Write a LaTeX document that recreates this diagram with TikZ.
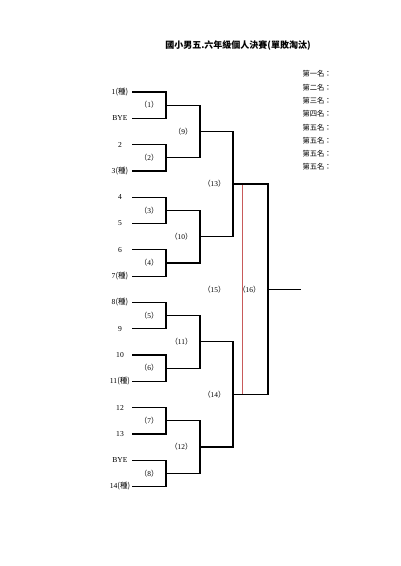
\documentclass[tikz,border=0pt]{standalone}
\usepackage{fontspec}
\setmainfont{Liberation Serif}
\newfontfamily\cjk{Noto Sans CJK TC}
\newcommand{\zh}[1]{{\cjk #1}}
\newcommand{\mno}[1]{{\cjk （}#1{\cjk ）}}
\definecolor{redline}{RGB}{200,90,90}

\begin{document}
\begin{tikzpicture}[x=1pt,y=-1pt,
    bk/.style={line width=1.2pt},
    plab/.style={font=\fontsize{7.6}{8}\selectfont},
    mlab/.style={anchor=east,font=\fontsize{7.4}{8}\selectfont},
    rlab/.style={anchor=west,font=\fontsize{7.3}{8}\selectfont}]
    \useasboundingbox (0,0) rectangle (400,566);
    \node[font=\fontsize{9}{10}\selectfont\bfseries] (title) at (238,45) {\zh{國小男五.六年級個人決賽(單敗淘汰)}};

    % players
    \node[plab] (p1) at (120,92.0) {1\zh{(種)}};
    \node[plab] (p2) at (120,118.3) {BYE};
    \node[plab] (p3) at (120,144.6) {2};
    \node[plab] (p4) at (120,170.9) {3\zh{(種)}};
    \node[plab] (p5) at (120,197.2) {4};
    \node[plab] (p6) at (120,223.5) {5};
    \node[plab] (p7) at (120,249.8) {6};
    \node[plab] (p8) at (120,276.1) {7\zh{(種)}};
    \node[plab] (p9) at (120,302.4) {8\zh{(種)}};
    \node[plab] (p10) at (120,328.7) {9};
    \node[plab] (p11) at (120,355.0) {10};
    \node[plab] (p12) at (120,381.3) {11\zh{(種)}};
    \node[plab] (p13) at (120,407.6) {12};
    \node[plab] (p14) at (120,433.9) {13};
    \node[plab] (p15) at (120,460.2) {BYE};
    \node[plab] (p16) at (120,486.5) {14\zh{(種)}};

    \coordinate (a1) at (132,92.0);
    \coordinate (a2) at (132,118.3);
    \coordinate (a3) at (132,144.6);
    \coordinate (a4) at (132,170.9);
    \coordinate (a5) at (132,197.2);
    \coordinate (a6) at (132,223.5);
    \coordinate (a7) at (132,249.8);
    \coordinate (a8) at (132,276.1);
    \coordinate (a9) at (132,302.4);
    \coordinate (a10) at (132,328.7);
    \coordinate (a11) at (132,355.0);
    \coordinate (a12) at (132,381.3);
    \coordinate (a13) at (132,407.6);
    \coordinate (a14) at (132,433.9);
    \coordinate (a15) at (132,460.2);
    \coordinate (a16) at (132,486.5);

    % match points
    \coordinate (m1) at (166,105.15);
    \coordinate (m2) at (166,157.75);
    \coordinate (m3) at (166,210.35);
    \coordinate (m4) at (166,262.95);
    \coordinate (m5) at (166,315.55);
    \coordinate (m6) at (166,368.15);
    \coordinate (m7) at (166,420.75);
    \coordinate (m8) at (166,473.35);
    \coordinate (m9) at (200,131.45);
    \coordinate (m10) at (200,236.65);
    \coordinate (m11) at (200,341.85);
    \coordinate (m12) at (200,447.05);
    \coordinate (m13) at (233,184.05);
    \coordinate (m14) at (233,394.45);
    \coordinate (m16) at (268,289.25);
    \coordinate (win) at (301,289.25);

    \draw[bk] (a1) -| (m1) |- (a2);
    \draw[bk] (a3) -| (m2) |- (a4);
    \draw[bk] (a5) -| (m3) |- (a6);
    \draw[bk] (a7) -| (m4) |- (a8);
    \draw[bk] (a9) -| (m5) |- (a10);
    \draw[bk] (a11) -| (m6) |- (a12);
    \draw[bk] (a13) -| (m7) |- (a14);
    \draw[bk] (a15) -| (m8) |- (a16);

    \draw[bk] (m1) -| (m9) |- (m2);
    \draw[bk] (m3) -| (m10) |- (m4);
    \draw[bk] (m5) -| (m11) |- (m6);
    \draw[bk] (m7) -| (m12) |- (m8);

    \draw[bk] (m9) -| (m13) |- (m10);
    \draw[bk] (m11) -| (m14) |- (m12);

    \draw[bk] (m13) -| (m16) |- (m14);
    \draw[bk] (m16) -- (win);

    % red line for (15)
    \coordinate (rt) at (242,185);
    \coordinate (rb) at (242,393.5);
    \draw[redline, line width=0.5pt] (rt) -- (rb);

    % match numbers
    \node[mlab] (l1) at (162,105.15) {\mno{1}};
    \node[mlab] (l2) at (162,157.75) {\mno{2}};
    \node[mlab] (l3) at (162,210.35) {\mno{3}};
    \node[mlab] (l4) at (162,262.95) {\mno{4}};
    \node[mlab] (l5) at (162,315.55) {\mno{5}};
    \node[mlab] (l6) at (162,368.15) {\mno{6}};
    \node[mlab] (l7) at (162,420.75) {\mno{7}};
    \node[mlab] (l8) at (162,473.35) {\mno{8}};
    \node[mlab] (l9) at (196,131.45) {\mno{9}};
    \node[mlab] (l10) at (196,236.65) {\mno{10}};
    \node[mlab] (l11) at (196,341.85) {\mno{11}};
    \node[mlab] (l12) at (196,447.05) {\mno{12}};
    \node[mlab] (l13) at (229,184.05) {\mno{13}};
    \node[mlab] (l14) at (229,394.45) {\mno{14}};
    \node[mlab] (l15) at (229,289.25) {\mno{15}};
    \node[mlab] (l16) at (264,289.25) {\mno{16}};

    % ranking
    \node[rlab] (rk1) at (299,74) {\zh{第一名：}};
    \node[rlab] (rk2) at (299,87.3) {\zh{第二名：}};
    \node[rlab] (rk3) at (299,100.6) {\zh{第三名：}};
    \node[rlab] (rk4) at (299,113.9) {\zh{第四名：}};
    \node[rlab] (rk5) at (299,127.2) {\zh{第五名：}};
    \node[rlab] (rk6) at (299,140.5) {\zh{第五名：}};
    \node[rlab] (rk7) at (299,153.8) {\zh{第五名：}};
    \node[rlab] (rk8) at (299,167.1) {\zh{第五名：}};
\end{tikzpicture}
\end{document}
